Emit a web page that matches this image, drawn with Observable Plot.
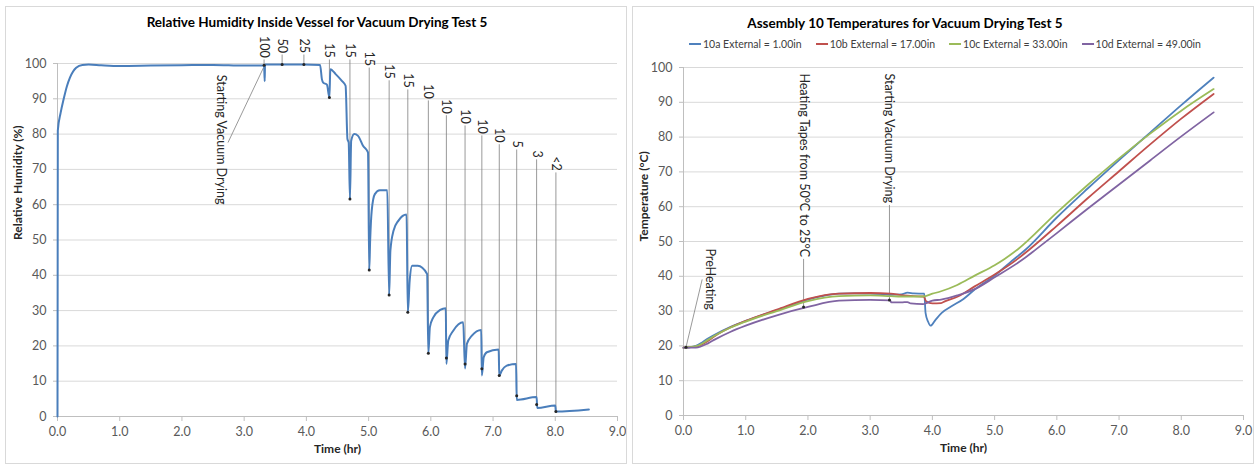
<!DOCTYPE html>
<html><head><meta charset="utf-8">
<script src="https://cdn.jsdelivr.net/npm/d3@7"></script>
<script src="https://cdn.jsdelivr.net/npm/@observablehq/plot@0.6"></script>
<style>
body{margin:0;background:#fff;font-family:Lato,"DejaVu Sans",sans-serif;}
#page{position:relative;width:1255px;height:464px;overflow:hidden;background:#fff;}
.chart{position:absolute;top:0;}
.panel{position:absolute;top:6px;height:458px;border:1px solid #d9d9d9;box-sizing:border-box;pointer-events:none;}
.title{position:absolute;font-weight:bold;font-size:13.5px;color:#000;white-space:nowrap;transform:translate(-50%,-50%);}
.legend{position:absolute;top:44px;left:945px;display:flex;align-items:center;transform:translate(-50%,-50%);font-size:10.5px;color:#404040;white-space:nowrap;}
.legend .item{display:flex;align-items:center;margin:0 7px;}
.legend .sw{width:12px;height:2px;margin-right:2px;}
</style></head>
<body><div id="page"></div>
<script>
// ---------- shared ticks ----------
const xTicks = [0, 1, 2, 3, 4, 5, 6, 7, 8, 9];
const yTicks = [0, 10, 20, 30, 40, 50, 60, 70, 80, 90, 100];

// ---------- left: relative humidity ----------
const rhTitle = "Relative Humidity Inside Vessel for Vacuum Drying Test 5";
const rhTime = [0, 0.005, 0.05, 0.1, 0.15, 0.2, 0.3, 0.4, 0.5, 0.7, 1.0, 1.5, 2.0, 2.5, 3.0, 3.31, 3.32, 3.33, 3.335,
  3.6, 3.96, 4.22, 4.25, 4.27, 4.33, 4.37, 4.385, 4.47, 4.57, 4.63, 4.66, 4.68, 4.70, 4.72, 4.77, 4.83, 4.91, 4.99,
  5.01, 5.025, 5.05, 5.10, 5.18, 5.30, 5.33, 5.35, 5.40, 5.48, 5.61, 5.63, 5.66, 5.70, 5.79, 5.94, 5.96,
  5.985, 6.04, 6.15, 6.24, 6.25, 6.28, 6.36, 6.52, 6.55, 6.58, 6.66, 6.81, 6.82, 6.85, 6.90, 7.09, 7.10,
  7.14, 7.22, 7.37, 7.38, 7.70, 7.71, 8.00, 8.01, 8.54];
const rhValue = [0, 81, 86, 90, 93.5, 96, 98.8, 99.6, 99.7, 99.5, 99.3, 99.4, 99.5, 99.6, 99.4, 99.4, 99.5, 95.0, 99.7,
  99.7, 99.7, 99.6, 95.5, 94.6, 94.0, 90.4, 98.4, 97.0, 95.1, 93.7, 78.6, 77.6, 61.6, 78.1, 80.0, 79.5, 76.7, 74.8,
  41.5, 50, 58.3, 63, 64.1, 64.1, 34.4, 47, 52.6, 55.5, 57.2, 29.5, 38.5, 42.7, 42.7, 40.4, 17.9,
  25.3, 28.1, 30.2, 30.7, 14.9, 21.5, 24.3, 26.7, 13.6, 20.6, 22.9, 24.5, 11.6, 16.8, 18.2, 19.0, 11.6,
  13.0, 14.4, 14.9, 4.7, 5.5, 2.4, 3.1, 1.4, 2.0];
// vacuum level annotations
const rhNoteText = ["100", "50", "25", "15", "15", "15", "15", "15", "10", "10", "10", "10", "10", "5", "3", "<2"];
const rhNoteTime = [3.32, 3.61, 3.96, 4.37, 4.70, 5.01, 5.33, 5.63, 5.96, 6.25, 6.55, 6.82, 7.10, 7.38, 7.70, 8.01];
const rhNoteValue = [99.5, 99.7, 99.7, 90.4, 61.6, 41.5, 34.4, 29.5, 17.9, 16.6, 14.9, 13.5, 11.6, 5.9, 3.4, 1.4];
const rhNoteEnd = [101.6, 103, 103, 101.6, 101.6, 99.3, 95.7, 93.1, 90.0, 85.8, 82.9, 80.1, 77.6, 76.1, 73.3, 69.6];
const rhStartText = "Starting Vacuum Drying";
const rhStartLabel = {t: 2.62, v: 96.8};
const rhStartLeader = {t1: 2.74, v1: 77.6, t2: 3.31, v2: 98.8};

// ---------- right: temperatures ----------
const tTitle = "Assembly 10 Temperatures for Vacuum Drying Test 5";
const seriesNames = ["10a External = 1.00in", "10b External = 17.00in", "10c External = 33.00in", "10d External = 49.00in"];
const seriesColors = ["#4f81bd", "#c0504d", "#9bbb59", "#8064a2"];
const aTime = [0, 0.1, 0.2, 0.3, 0.4, 0.5, 0.75, 1.0, 1.25, 1.5, 1.75, 2.0, 2.25, 2.5, 2.75, 3.0, 3.25, 3.33, 3.5, 3.6, 3.7, 3.87, 3.89, 3.93, 3.97, 4.05, 4.15, 4.3, 4.5, 4.68, 5.0, 5.25, 5.5, 6.0, 6.5, 7.0, 7.5, 8.0, 8.52];
const aTemp = [19.5, 19.6, 20.0, 21.0, 22.2, 23.2, 25.4, 27.2, 28.8, 30.3, 31.8, 33.3, 34.4, 35.0, 35.1, 35.0, 34.8, 34.7, 34.8, 35.3, 35.1, 35.0, 29.5, 27.0, 25.8, 27.5, 29.5, 31.3, 33.5, 36.2, 40.2, 44.0, 47.7, 56.9, 65.3, 73.4, 81.3, 89.2, 97.1];
const bTime = [0, 0.2, 0.4, 0.5, 0.75, 1.0, 1.5, 2.0, 2.5, 3.0, 3.33, 3.5, 3.7, 3.86, 3.9, 4.0, 4.14, 4.2, 4.41, 4.68, 5.0, 5.37, 5.56, 6.0, 6.5, 7.0, 7.5, 8.0, 8.52];
const bTemp = [19.5, 19.8, 21.5, 22.8, 25.3, 27.2, 30.4, 33.5, 35.0, 35.2, 35.0, 34.6, 34.3, 34.2, 32.8, 32.2, 32.3, 32.8, 34.2, 37.1, 40.5, 45.0, 47.7, 54.5, 62.5, 70.2, 77.9, 85.3, 92.4];
const cTime = [0, 0.2, 0.4, 0.5, 0.75, 1.0, 1.5, 2.0, 2.5, 3.0, 3.33, 3.5, 3.85, 4.0, 4.14, 4.4, 4.68, 5.0, 5.16, 5.37, 6.0, 6.5, 7.0, 7.5, 8.0, 8.52];
const cTemp = [19.5, 19.9, 21.8, 22.9, 25.2, 27.0, 30.0, 32.9, 34.3, 34.5, 34.3, 34.2, 34.2, 35.0, 35.7, 37.5, 40.2, 43.2, 45.0, 47.7, 58.3, 66.3, 73.9, 81.0, 87.6, 93.8];
const dTime = [0, 0.2, 0.4, 0.5, 0.75, 1.0, 1.5, 2.0, 2.5, 3.0, 3.32, 3.34, 3.5, 3.6, 3.65, 3.85, 3.9, 4.0, 4.14, 4.4, 4.68, 5.0, 5.45, 5.67, 6.0, 6.5, 7.0, 7.5, 8.0, 8.52];
const dTemp = [19.5, 19.5, 20.8, 21.8, 24.0, 25.8, 28.8, 31.2, 33.0, 33.2, 33.1, 32.5, 32.5, 32.6, 32.2, 32.0, 32.3, 33.0, 33.3, 34.5, 36.3, 39.7, 44.8, 47.8, 52.4, 59.5, 66.4, 73.3, 80.2, 87.1];
const tNoteText = ["PreHeating", "Heating Tapes from 50°C to 25°C", "Starting Vacuum Drying"];
const tNoteLabelTime = [0.42, 1.93, 3.31];
const tNoteLabelTop = [48, 98.3, 98.3];
const tNoteLeadTime = [0.30, 1.93, 3.31];
const tNoteLeadTop = [39.1, 45.0, 60.5];
const tNoteTime = [0.04, 1.93, 3.31];
const tNoteValue = [19.6, 31.2, 33.2];

// ---------- build ----------
const page = document.getElementById("page");
const fmt = d => d.toFixed(1);
const font = "Lato, 'DejaVu Sans', sans-serif";

const rh = rhTime.map((t, i) => ({t, v: rhValue[i]}));
const rhNotes = rhNoteText.map((s, i) => ({s, t: rhNoteTime[i], v: rhNoteValue[i], e: rhNoteEnd[i]}));

function frameMarks(yLabel) {
  return [
    Plot.gridY(yTicks, {stroke: "#d9d9d9", strokeOpacity: 1, strokeWidth: 1}),
    Plot.ruleY([0], {stroke: "#bfbfbf"}),
    Plot.ruleX([0], {y1: 0, y2: 100, stroke: "#bfbfbf"}),
    Plot.axisX(xTicks, {tickSize: 5, tickPadding: 6, tickFormat: fmt, stroke: "#bfbfbf", fill: "#595959", label: null}),
    Plot.axisY(yTicks, {tickSize: 4, tickPadding: 7, stroke: "#bfbfbf", fill: "#595959", label: null}),
    Plot.text([yLabel], {frameAnchor: "left", dx: -39, rotate: -90, fontWeight: "bold", fill: "#262626", fontSize: 12}),
    Plot.text(["Time (hr)"], {frameAnchor: "bottom", dy: 36, fontWeight: "bold", fill: "#262626", fontSize: 12})
  ];
}

const left = Plot.plot({
  width: 628, height: 464,
  marginLeft: 57, marginRight: 11, marginTop: 63, marginBottom: 48,
  style: {fontFamily: font, fontSize: "12.5px", background: "transparent", overflow: "visible"},
  x: {domain: [0, 9]},
  y: {domain: [0, 100]},
  marks: [
    ...frameMarks("Relative Humidity (%)"),
    Plot.ruleX(rhNotes, {x: "t", y1: d => d.e - 0.6, y2: "v", stroke: "#7f7f7f", strokeWidth: 0.8}),
    Plot.link([rhStartLeader], {x1: "t1", y1: "v1", x2: "t2", y2: "v2", stroke: "#7f7f7f", strokeWidth: 0.8}),
    Plot.line(rh, {x: "t", y: "v", stroke: "#4a7ebb", strokeWidth: 2, curve: "monotone-x"}),
    Plot.dot(rhNotes, {x: "t", y: "v", r: 1.5, fill: "#262626"}),
    Plot.text(rhNotes, {x: "t", y: "e", text: "s", rotate: 90, textAnchor: "end", fill: "#262626", fontSize: 12.5}),
    Plot.text([rhStartText], {x: rhStartLabel.t, y: rhStartLabel.v, rotate: 90, textAnchor: "start", fill: "#262626", fontSize: 12.5})
  ]
});
left.classList.add("chart");
left.style.left = "0px";
page.appendChild(left);

const temps = [];
[[aTime, aTemp], [bTime, bTemp], [cTime, cTemp], [dTime, dTemp]].forEach(([ts, vs], k) => {
  ts.forEach((t, i) => temps.push({series: seriesNames[k], t, v: vs[i]}));
});
const tNotes = tNoteText.map((s, i) => ({s, lt: tNoteLabelTime[i], top: tNoteLabelTop[i], ct: tNoteLeadTime[i], cv: tNoteLeadTop[i], t: tNoteTime[i], v: tNoteValue[i]}));

const right = Plot.plot({
  width: 627, height: 464,
  marginLeft: 55, marginRight: 12, marginTop: 67, marginBottom: 49,
  style: {fontFamily: font, fontSize: "12.5px", background: "transparent", overflow: "visible"},
  x: {domain: [0, 9]},
  y: {domain: [0, 100]},
  color: {domain: seriesNames, range: seriesColors},
  marks: [
    ...frameMarks("Temperature (°C)"),
    Plot.link(tNotes, {x1: "ct", y1: "cv", x2: "t", y2: "v", stroke: "#7f7f7f", strokeWidth: 0.8}),
    Plot.line(temps, {x: "t", y: "v", z: "series", stroke: "series", strokeWidth: 1.8, curve: "monotone-x"}),
    Plot.dot(tNotes, {x: "t", y: "v", r: 1.5, fill: "#262626"}),
    Plot.text(tNotes, {x: "lt", y: "top", text: "s", rotate: 90, textAnchor: "start", fill: "#262626", fontSize: 12.5})
  ]
});
right.classList.add("chart");
right.style.left = "628px";
page.appendChild(right);

// panels, titles, legend
function addDiv(cls, css, html) {
  const d = document.createElement("div");
  d.className = cls;
  Object.assign(d.style, css);
  if (html != null) d.textContent = html;
  page.appendChild(d);
  return d;
}
addDiv("panel", {left: "5px", width: "622px"});
addDiv("panel", {left: "632px", width: "622px"});
addDiv("title", {left: "317px", top: "22px"}, rhTitle);
addDiv("title", {left: "905px", top: "23px"}, tTitle);
const lg = addDiv("legend", {});
seriesNames.forEach((n, i) => {
  const it = document.createElement("div"); it.className = "item";
  const sw = document.createElement("div"); sw.className = "sw"; sw.style.background = seriesColors[i];
  const tx = document.createElement("span"); tx.textContent = n;
  it.appendChild(sw); it.appendChild(tx); lg.appendChild(it);
});
</script>
</body></html>
